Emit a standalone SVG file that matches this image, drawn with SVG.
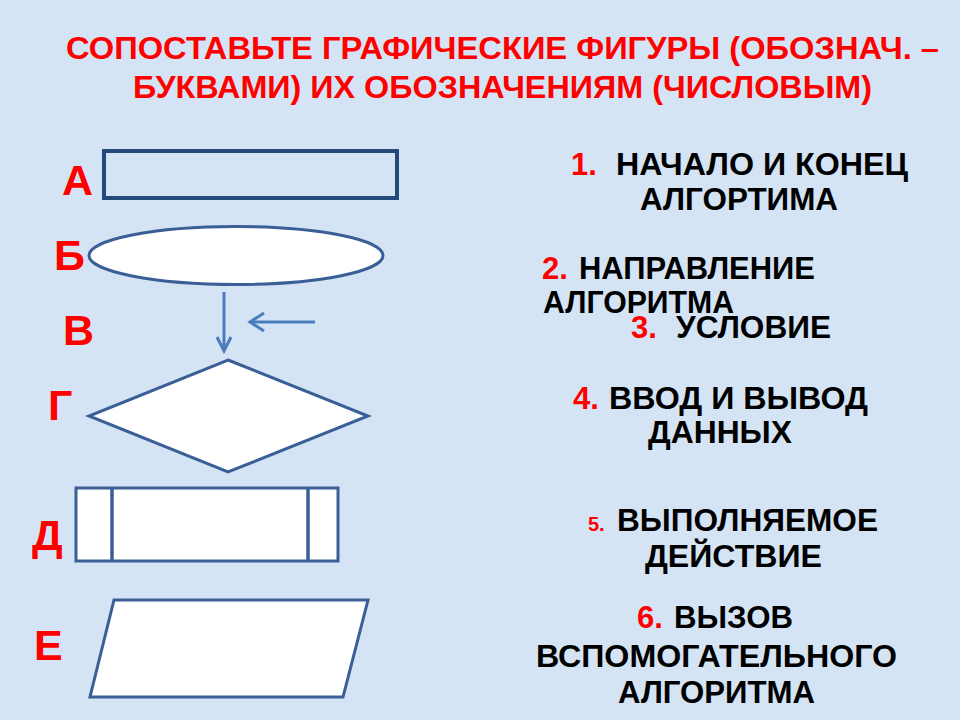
<svg xmlns="http://www.w3.org/2000/svg" width="960" height="720" viewBox="0 0 960 720">
<style>
.bg{fill:#d4e4f5}
.title{font-family:"Liberation Sans",Arial,sans-serif;font-weight:bold;font-size:31px;fill:#ff0000}
.lbl{font-family:"Liberation Sans",Arial,sans-serif;font-weight:bold;font-size:43px;fill:#ff0000}
.txt{font-family:"Liberation Sans",Arial,sans-serif;font-weight:bold;font-size:31px;fill:#000}
.num{fill:#ff0000}
.shape{fill:#fff;stroke:#3a5f96;stroke-width:3}
.conn{fill:none;stroke:#4a7dbb;stroke-width:3}
</style>
<rect class="bg" x="0" y="0" width="960" height="720"/>
<g id="title">
<text class="title" x="66" y="59" textLength="873" lengthAdjust="spacingAndGlyphs">СОПОСТАВЬТЕ  ГРАФИЧЕСКИЕ ФИГУРЫ (ОБОЗНАЧ. –</text>
<text class="title" x="133" y="98" textLength="739" lengthAdjust="spacingAndGlyphs">БУКВАМИ) ИХ ОБОЗНАЧЕНИЯМ (ЧИСЛОВЫМ)</text>
</g>
<g id="node-A">
<text class="lbl" x="62" y="195">А</text>
<rect x="104" y="151" width="293" height="47" fill="none" stroke="#244a7c" stroke-width="4"/>
</g>
<g id="node-B">
<text class="lbl" x="54" y="270">Б</text>
<ellipse class="shape" cx="236" cy="255.5" rx="147" ry="29"/>
</g>
<g id="node-V">
<text class="lbl" x="63" y="345">В</text>
</g>
<g id="connectors">
<line class="conn" x1="224" y1="292" x2="224" y2="351"/>
<polyline class="conn" points="217,337 224,351 231,337"/>
<line class="conn" x1="250" y1="322" x2="315" y2="322"/>
<polyline class="conn" points="264,313 250,322 264,331"/>
</g>
<g id="node-G">
<text class="lbl" x="48" y="420">Г</text>
<polygon class="shape" points="228,360 368,416 228,472 89,416"/>
</g>
<g id="node-D">
<text class="lbl" x="32" y="550">Д</text>
<rect class="shape" x="76" y="488" width="262" height="73" stroke-width="3.5"/>
<line x1="112" y1="488" x2="112" y2="561" stroke="#3a5f96" stroke-width="3.5"/>
<line x1="308" y1="488" x2="308" y2="561" stroke="#3a5f96" stroke-width="3.5"/>
</g>
<g id="node-E">
<text class="lbl" x="34" y="660">Е</text>
<polygon class="shape" points="114,600 368,600 343,697 90,697"/>
</g>
<g id="answers">
<text class="txt" y="175"><tspan class="num" x="571">1.</tspan><tspan x="616" textLength="292" lengthAdjust="spacingAndGlyphs">НАЧАЛО И КОНЕЦ</tspan></text>
<text class="txt" x="640" y="210" textLength="198" lengthAdjust="spacingAndGlyphs">АЛГОРТИМА</text>
<text class="txt" y="279"><tspan class="num" x="542">2.</tspan><tspan x="579" textLength="236" lengthAdjust="spacingAndGlyphs">НАПРАВЛЕНИЕ</tspan></text>
<text class="txt" x="543" y="313" textLength="191" lengthAdjust="spacingAndGlyphs">АЛГОРИТМА</text>
<text class="txt" y="338"><tspan class="num" x="631">3.</tspan><tspan x="676" textLength="155" lengthAdjust="spacingAndGlyphs">УСЛОВИЕ</tspan></text>
<text class="txt" y="409"><tspan class="num" x="573">4.</tspan><tspan x="609" textLength="259" lengthAdjust="spacingAndGlyphs">ВВОД И ВЫВОД</tspan></text>
<text class="txt" x="648" y="443" textLength="144" lengthAdjust="spacingAndGlyphs">ДАННЫХ</text>
<text class="txt" y="531"><tspan class="num" x="588" style="font-size:20px">5.</tspan><tspan x="617" textLength="261" lengthAdjust="spacingAndGlyphs">ВЫПОЛНЯЕМОЕ</tspan></text>
<text class="txt" x="645" y="567" textLength="177" lengthAdjust="spacingAndGlyphs">ДЕЙСТВИЕ</text>
<text class="txt" y="628"><tspan class="num" x="637">6.</tspan><tspan x="674" textLength="119" lengthAdjust="spacingAndGlyphs">ВЫЗОВ</tspan></text>
<text class="txt" x="536" y="667" textLength="361" lengthAdjust="spacingAndGlyphs">ВСПОМОГАТЕЛЬНОГО</text>
<text class="txt" x="618" y="703" textLength="197" lengthAdjust="spacingAndGlyphs">АЛГОРИТМА</text>
</g>
</svg>
